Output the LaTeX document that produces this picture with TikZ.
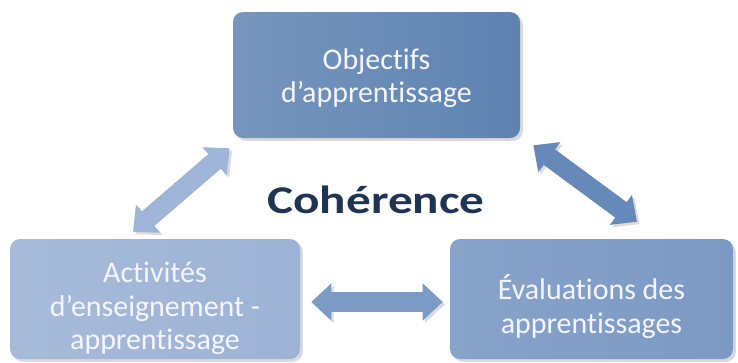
\documentclass[tikz,border=0pt]{standalone}
\usepackage{fontspec}
\setmainfont[Ligatures=NoCommon]{Carlito}
\newfontfamily\boxfont[Ligatures=NoCommon]{Carlito}
\newfontfamily\titlefont[FakeStretch=1.25]{Carlito}
\usetikzlibrary{arrows.meta, calc, shadows}

\definecolor{bleuobj}{HTML}{5E83B1}
\definecolor{bleuact}{HTML}{9DB3D5}
\definecolor{bleueval}{HTML}{7B99C4}
\definecolor{flecheg}{HTML}{9EB5D7}
\definecolor{fleched}{HTML}{6689BA}
\definecolor{flecheb}{HTML}{7B9AC6}
\definecolor{titre}{HTML}{1F3452}

% texte des boites, descendu de #1
\newcommand{\lignes}[2]{\raisebox{#1}[0pt][0pt]{\begin{tabular}{@{}c@{}}#2\end{tabular}}}

\begin{document}
\begin{tikzpicture}[
  boite/.style={rounded corners=0.25cm, align=center, inner sep=0pt,
    text=white!96!blue, font=\boxfont\fontsize{21.3}{24}\selectfont,
    drop shadow={shadow xshift=0.07cm, shadow yshift=-0.07cm, opacity=0.3}},
  fleche/.style={line width=0.48cm,
    {Triangle[length=0.5cm, width=0.9cm]}-{Triangle[length=0.5cm, width=0.9cm]},
    preaction={draw=black!14, transform canvas={shift={(0.06cm,-0.06cm)}}}}]
  \useasboundingbox (0,0) rectangle (18.45,9.05);

  % les trois boites
  \node[boite, minimum width=7.175cm, minimum height=3.15cm,
    left color=bleuobj!85!white, right color=bleuobj] (obj) at (9.4125,7.175)
    {\lignes{-0.29cm}{Objectifs\\d’apprentissage}};
  \node[boite, minimum width=7.25cm, minimum height=3.0cm,
    left color=bleuact!90!white, right color=bleuact] (act) at (3.875,1.575)
    {\lignes{-0.44cm}{Activités\\d’enseignement -\\apprentissage}};
  \node[boite, minimum width=7.075cm, minimum height=3.0cm,
    left color=bleueval!90!white, right color=bleueval] (eval) at (14.7875,1.575)
    {\lignes{-0.44cm}{Évaluations des\\apprentissages}};

  % titre central
  \node[text=titre, font=\titlefont\bfseries\fontsize{28}{33}\selectfont] (coh) at (9.4,4.05) {Cohérence};

  % fleches doubles
  \draw[fleche, flecheg] ([shift={(-0.55,0.175)}]act.north) -- ([shift={(-0.075,-0.25)}]obj.south west);
  \draw[fleche, fleched] ([shift={(0.325,-0.175)}]obj.south east) -- ([shift={(1.1375,0.425)}]eval.north);
  \draw[fleche, flecheb] ([shift={(0.275,-0.075)}]act.east) -- ([shift={(-0.175,-0.075)}]eval.west);
\end{tikzpicture}
\end{document}
